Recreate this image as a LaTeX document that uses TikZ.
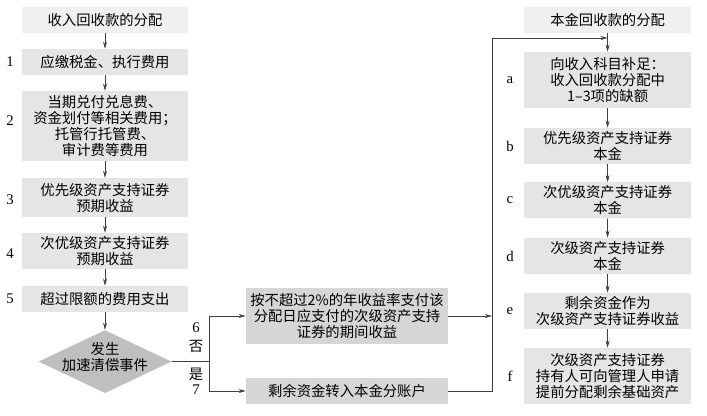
\documentclass[tikz,border=0pt]{standalone}
\usepackage{fontspec}
\setmainfont{Liberation Serif}
\newfontfamily\cjk{Noto Sans CJK SC}
\usetikzlibrary{arrows.meta,shapes.geometric}
\definecolor{fillT}{rgb}{0.94,0.94,0.94}
\definecolor{fillA}{rgb}{0.90,0.90,0.90}
\definecolor{fillB}{rgb}{0.84,0.84,0.84}
\definecolor{fillC}{rgb}{0.75,0.75,0.75}
\definecolor{lineA}{rgb}{0.25,0.25,0.25}

\begin{document}
\begin{tikzpicture}[>={Stealth[length=5pt,width=2.8pt]}, line cap=round,
  box/.style={fill=fillA, minimum width=4.15cm, inner sep=0pt, align=center,
    font={\cjk\fontsize{10.2}{11.4}\selectfont}},
  titlebox/.style={box, fill=fillT, minimum height=0.65cm},
  midbox/.style={box, fill=fillB, minimum width=5.05cm},
  tag/.style={font={\fontsize{10.5}{12}\selectfont}},
  conn/.style={draw=lineA, thin}]
\useasboundingbox (0,0) rectangle (17.675,-10.4);
% 收入回收款
\node[titlebox] (l0) at (2.625,-0.5) {收入回收款的分配};
\node[box, minimum height=0.65cm] (l1) at (2.625,-1.55) {应缴税金、执行费用};
\node[box, minimum height=1.75cm] (l2) at (2.625,-3.15) {当期兑付兑息费、\\资金划付等相关费用；\\托管行托管费、\\审计费等费用};
\node[box, minimum height=0.975cm] (l3) at (2.625,-4.94) {优先级资产支持证券\\预期收益};
\node[box, minimum height=0.9cm] (l4) at (2.625,-6.275) {次优级资产支持证券\\预期收益};
\node[box, minimum height=0.65cm] (l5) at (2.625,-7.475) {超过限额的费用支出};
\node[diamond, fill=fillC, inner sep=0pt, minimum width=3.325cm, minimum height=1.575cm,
  label={[align=center, font={\cjk\fontsize{10.2}{11.4}\selectfont}, yshift=3pt]center:发生\\加速清偿事件}] (acc) at (2.625,-9.04) {};
\node[tag] (k1) at (0.25,-1.55) {1};
\node[tag] (k2) at (0.25,-3.02) {2};
\node[tag] (k3) at (0.25,-5.0) {3};
\node[tag] (k4) at (0.25,-6.33) {4};
\node[tag] (k5) at (0.25,-7.47) {5};
% 分支
\node[midbox, minimum height=1.4cm] (m1) at (8.675,-7.9) {按不超过2\%的年收益率支付该\\分配日应支付的次级资产支持\\证券的期间收益};
\node[midbox, minimum height=0.65cm] (m2) at (8.675,-9.775) {剩余资金转入本金分账户};
\node[tag] (k6) at (4.9,-8.2) {6};
\node[tag, font={\cjk\fontsize{10.2}{12}\selectfont}] (kno) at (4.9,-8.65) {否};
\node[tag, font={\cjk\fontsize{10.2}{12}\selectfont}] (kyes) at (4.9,-9.35) {是};
\node[tag] (k7) at (4.9,-9.75) {7};
% 本金回收款
\node[titlebox, minimum width=4.175cm] (r0) at (15.19,-0.5) {本金回收款的分配};
\node[box, minimum width=4.175cm, minimum height=1.4cm] (ra) at (15.19,-2.0) {向收入科目补足：\\收入回收款分配中\\1–3项的缺额};
\node[box, minimum width=4.175cm, minimum height=0.9cm] (rb) at (15.19,-3.65) {优先级资产支持证券\\本金};
\node[box, minimum width=4.175cm, minimum height=0.9cm] (rc) at (15.19,-5.0125) {次优级资产支持证券\\本金};
\node[box, minimum width=4.175cm, minimum height=0.9cm] (rd) at (15.19,-6.4) {次级资产支持证券\\本金};
\node[box, minimum width=4.175cm, minimum height=0.9cm] (re) at (15.19,-7.775) {剩余资金作为\\次级资产支持证券收益};
\node[box, minimum width=4.175cm, minimum height=1.4cm] (rf) at (15.19,-9.4) {次级资产支持证券\\持有人可向管理人申请\\提前分配剩余基础资产};
\node[tag] (ka) at (12.75,-2.0) {a};
\node[tag] (kb) at (12.75,-3.65) {b};
\node[tag] (kc) at (12.75,-5.0) {c};
\node[tag] (kd) at (12.75,-6.4) {d};
\node[tag] (ke) at (12.75,-7.775) {e};
\node[tag] (kf) at (12.75,-9.4) {f};
% 连线
\foreach \a/\b in {l0/l1, l1/l2, l2/l3, l3/l4, l4/l5, l5/acc, r0/ra, ra/rb, rb/rc, rc/rd, rd/re, re/rf}
  \draw[conn, ->] (\a) -- (\b);
\coordinate (br) at (5.225,-9.04);
\coordinate (col) at (12.3,-0.95);
\draw[conn] (acc.east) -- (br);
\draw[conn, ->] (br) |- (m1);
\draw[conn, ->] (br) |- (m2);
\draw[conn, ->] (m1) -- (m1 -| col);
\draw[conn, ->] (m2) -| (col) -- (col -| r0.south);
\end{tikzpicture}
\end{document}
